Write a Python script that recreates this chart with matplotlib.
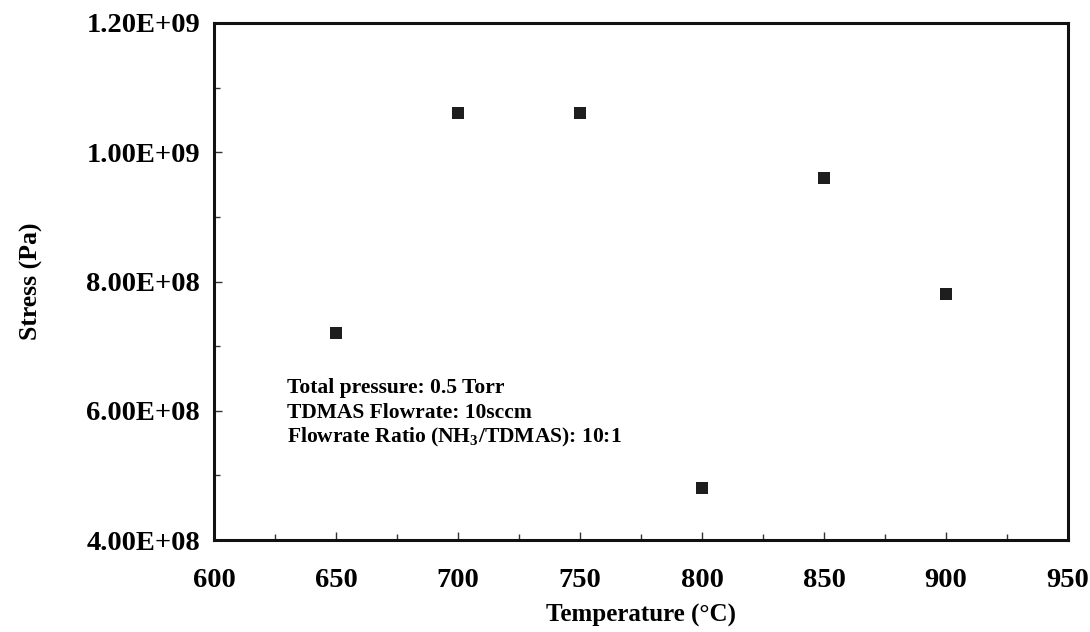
import matplotlib
matplotlib.use("Agg")
import matplotlib.pyplot as plt
from matplotlib.ticker import MultipleLocator, FuncFormatter

temperature = [650, 700, 750, 800, 850, 900]
stress = [7.2e8, 1.06e9, 1.06e9, 4.8e8, 9.6e8, 7.8e8]

notes = [
    "Total pressure: 0.5 Torr",
    "TDMAS Flowrate: 10sccm",
    r"Flowrate Ratio (NH$_\mathbf{3}$/TDMAS): 10:1",
]

plt.rcParams["font.family"] = "Liberation Serif"
plt.rcParams["font.weight"] = "bold"
plt.rcParams["axes.labelweight"] = "bold"
plt.rcParams["mathtext.fontset"] = "custom"
plt.rcParams["mathtext.rm"] = "Liberation Serif:bold"
plt.rcParams["mathtext.bf"] = "Liberation Serif:bold"

fig = plt.figure(figsize=(10.9, 6.32), dpi=100)
ax = fig.add_axes([214 / 1090, 1 - 540 / 632, (1068 - 214) / 1090, (540 - 23) / 632])

ax.plot(temperature, stress, linestyle="none", marker="s", markersize=8,
        color="#1e1e1e", markeredgewidth=0)

ax.set_xlim(600, 950)
ax.set_ylim(4e8, 1.2e9)
ax.xaxis.set_major_locator(MultipleLocator(50))
ax.xaxis.set_minor_locator(MultipleLocator(25))
ax.yaxis.set_major_locator(MultipleLocator(2e8))
ax.yaxis.set_minor_locator(MultipleLocator(1e8))
ax.yaxis.set_major_formatter(FuncFormatter(lambda v, p: f"{v:.2E}"))

for s in ax.spines.values():
    s.set_linewidth(2.2)
    s.set_color("#111111")

ax.tick_params(which="both", direction="in", color="#333333", width=1)
ax.tick_params(which="major", length=6, labelsize=20.5, pad=10)
ax.tick_params(which="minor", length=4)
ax.tick_params(axis="x", which="major", pad=20)

ax.set_xlabel("Temperature (°C)", fontsize=18, labelpad=8)
ax.set_ylabel("Stress (Pa)", fontsize=18.5, labelpad=31)

for i, line in enumerate(notes):
    ax.text(630, 6.35e8 - i * 0.385e8, line, fontsize=15.5, va="center", ha="left")

fig.savefig("out.png", dpi=100)
